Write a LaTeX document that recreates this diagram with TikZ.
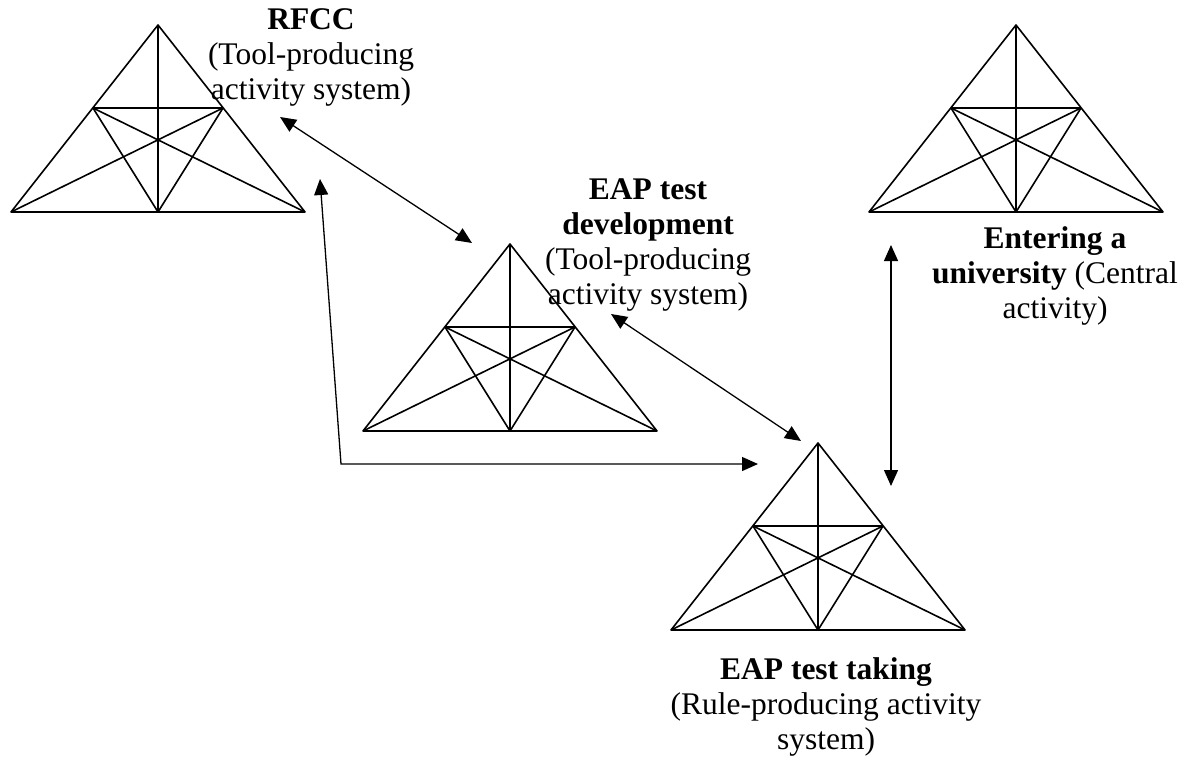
\documentclass[tikz,border=0pt]{standalone}
\usepackage{fontspec}
\setmainfont{Liberation Serif}
\usetikzlibrary{arrows.meta}
\tikzset{
  actri/.pic={
    \coordinate (-A) at (0,0);
    \coordinate (-L) at (-147,187);
    \coordinate (-R) at (147,187);
    \coordinate (-M) at (0,187);
    \coordinate (-P) at (-65,83);
    \coordinate (-Q) at (65,83);
    \draw[triline] (-A) -- (-L) -- (-R) -- cycle;
    \draw[triline] (-A) -- (-M);
    \draw[triline] (-P) -- (-Q);
    \draw[triline] (-L) -- (-Q);
    \draw[triline] (-R) -- (-P);
    \draw[triline] (-P) -- (-M) -- (-Q);
  },
  triline/.style={line width=1.6pt, line join=round},
  lbl/.style={align=center, font=\fontsize{31.5}{35}\selectfont, inner sep=0pt, anchor=north},
  conn/.style={line width=1.3pt, {Triangle[length=16pt,width=14pt]}-{Triangle[length=16pt,width=14pt]}}
}
\begin{document}
\begin{tikzpicture}[x=1pt,y=-1pt]
\useasboundingbox (0,0) rectangle (1193,757);
% triangles
\pic (rfcc) at (158,25) {actri};
\pic (dev) at (510,244) {actri};
\pic (take) at (818,443) {actri};
\pic (uni) at (1016,25) {actri};
% labels
\node[lbl] (lrfcc) at (311,8) {\textbf{RFCC}\\(Tool-producing\\activity system)};
\node[lbl] (ldev) at (648,179) {\textbf{EAP test}\\\textbf{development}\\(Tool-producing\\activity system)};
\node[lbl] (luni) at (1055,226) {\textbf{Entering a}\\\textbf{university} (Central\\activity)};
\node[lbl] (ltake) at (826,657) {\textbf{EAP test taking}\\(Rule-producing activity\\system)};
% connector end points
\coordinate (a1s) at (280,117);
\coordinate (a1e) at (472,243);
\coordinate (a2s) at (320,179);
\coordinate (a2c) at (341,464);
\coordinate (a2e) at (758,464);
\coordinate (a3s) at (611,314);
\coordinate (a3e) at (801,441);
\coordinate (a4s) at (891,245);
\coordinate (a4e) at (891,486);
% connectors
\draw[conn] (a1s) -- (a1e);
\draw[conn] (a2s) -- (a2c) -- (a2e);
\draw[conn] (a3s) -- (a3e);
\draw[conn] (a4s) -- (a4e);
\end{tikzpicture}
\end{document}
